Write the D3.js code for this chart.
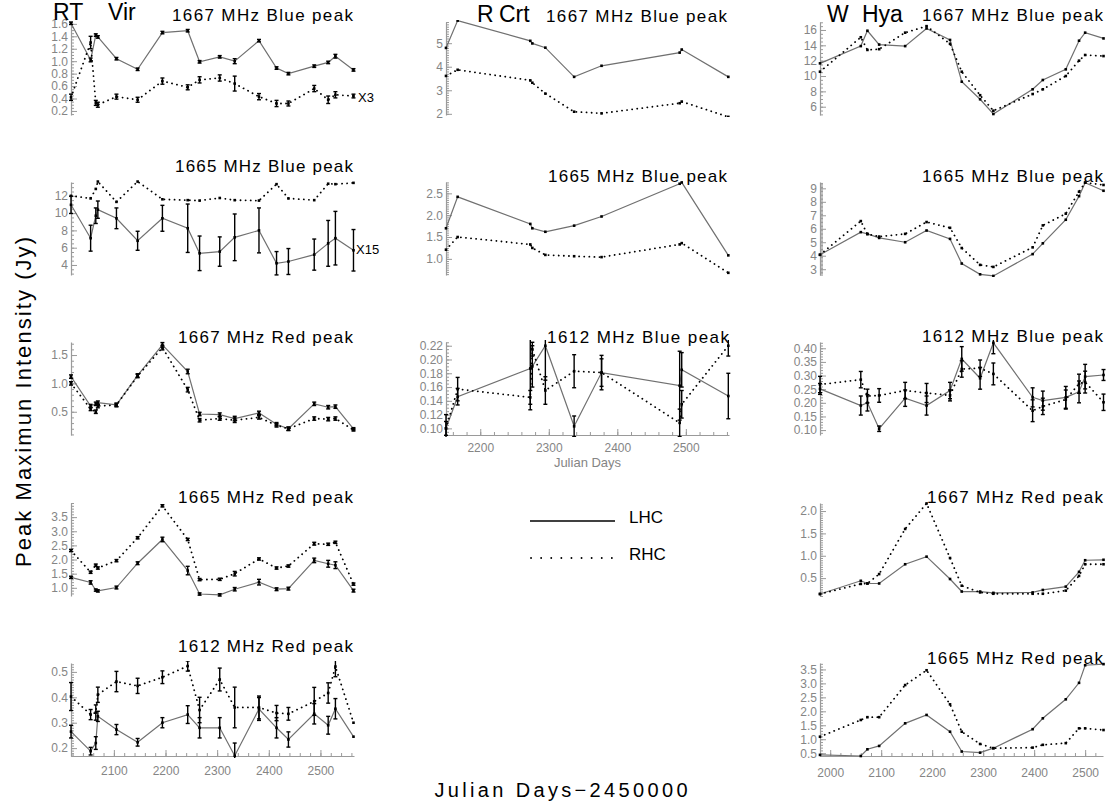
<!DOCTYPE html>
<html><head><meta charset="utf-8">
<script src="https://cdn.jsdelivr.net/npm/d3@7"></script>
<style>body{margin:0;background:#fff} svg{display:block}</style>
</head><body>
<svg id="c" width="1107" height="802"></svg>
<script>
// ---------------- DATA ----------------
const rtVirDays = [2017, 2055, 2065, 2069, 2105, 2146, 2194, 2243, 2266, 2305, 2334, 2381, 2415, 2438, 2488, 2515, 2529, 2564];
const rCrtDays  = [2150, 2167, 2273, 2276, 2295, 2337, 2377, 2491, 2494, 2562];
const wHyaDays  = [1980, 2060, 2073, 2096, 2147, 2189, 2235, 2258, 2294, 2320, 2397, 2417, 2462, 2488, 2500, 2536];

// RT Vir
const rtVir1667BlueLHC = [1.61, 1.02, 1.42, 1.39, 1.04, 0.87, 1.46, 1.49, 0.99, 1.07, 1.00, 1.33, 0.89, 0.80, 0.92, 0.98, 1.08, 0.86];
const rtVir1667BlueLHCErr = [0.02, 0.03, 0.02, 0.02, 0.02, 0.02, 0.02, 0.02, 0.02, 0.02, 0.04, 0.02, 0.02, 0.02, 0.02, 0.02, 0.03, 0.02];
const rtVir1667BlueRHC = [0.42, 1.30, 0.33, 0.30, 0.43, 0.38, 0.68, 0.58, 0.70, 0.73, 0.64, 0.43, 0.32, 0.32, 0.56, 0.38, 0.46, 0.44];
const rtVir1667BlueRHCErr = [0.05, 0.10, 0.04, 0.04, 0.04, 0.04, 0.05, 0.04, 0.05, 0.05, 0.12, 0.05, 0.05, 0.04, 0.05, 0.06, 0.05, 0.03];

const rtVir1665BlueLHC = [10.96, 7.1, 9.7, 10.4, 9.4, 6.8, 9.4, 8.25, 5.35, 5.55, 7.2, 8.0, 4.2, 4.4, 5.2, 6.5, 7.1, 5.7];
const rtVir1665BlueLHCErr = [1.0, 1.5, 0.9, 1.0, 1.2, 1.1, 1.5, 2.8, 2.0, 1.7, 2.7, 2.6, 1.35, 1.5, 1.8, 2.65, 3.1, 2.4];
const rtVir1665BlueRHC = [12.0, 11.7, 12.8, 13.65, 11.3, 13.65, 11.6, 11.5, 11.45, 11.75, 11.5, 11.45, 13.35, 11.7, 11.5, 13.4, 13.35, 13.5];

const rtVir1667RedLHC = [1.12, 0.60, 0.64, 0.66, 0.62, 1.14, 1.68, 1.21, 0.46, 0.45, 0.38, 0.48, 0.28, 0.20, 0.64, 0.58, 0.59, 0.20];
const rtVir1667RedLHCErr = [0.03, 0.03, 0.03, 0.03, 0.03, 0.03, 0.04, 0.04, 0.03, 0.03, 0.04, 0.03, 0.03, 0.03, 0.03, 0.03, 0.03, 0.02];
const rtVir1667RedRHC = [1.00, 0.55, 0.50, 0.60, 0.62, 1.13, 1.63, 0.89, 0.35, 0.38, 0.35, 0.40, 0.26, 0.20, 0.38, 0.37, 0.38, 0.18];
const rtVir1667RedRHCErr = [0.03, 0.03, 0.03, 0.03, 0.03, 0.03, 0.04, 0.04, 0.03, 0.03, 0.04, 0.03, 0.03, 0.03, 0.03, 0.03, 0.03, 0.02];

const rtVir1665RedLHC = [1.37, 1.19, 0.92, 0.89, 1.01, 1.87, 2.71, 1.61, 0.78, 0.75, 0.95, 1.20, 0.95, 0.97, 1.97, 1.85, 1.80, 0.90];
const rtVir1665RedLHCErr = [0.04, 0.06, 0.04, 0.04, 0.05, 0.05, 0.08, 0.15, 0.04, 0.04, 0.06, 0.10, 0.05, 0.05, 0.08, 0.12, 0.12, 0.05];
const rtVir1665RedRHC = [2.32, 1.55, 1.80, 1.70, 1.96, 2.77, 3.90, 2.71, 1.29, 1.30, 1.50, 2.02, 1.70, 1.77, 2.56, 2.54, 2.61, 1.13];
const rtVir1665RedRHCErr = [0.04, 0.04, 0.04, 0.04, 0.04, 0.04, 0.04, 0.04, 0.04, 0.04, 0.08, 0.04, 0.04, 0.04, 0.05, 0.04, 0.04, 0.04];

const rtVir1612RedLHC = [0.265, 0.188, 0.22, 0.325, 0.273, 0.223, 0.30, 0.332, 0.28, 0.28, 0.17, 0.354, 0.28, 0.234, 0.335, 0.29, 0.355, 0.245];
const rtVir1612RedLHCErr = [0.025, 0.015, 0.025, 0.02, 0.02, 0.015, 0.02, 0.035, 0.04, 0.04, 0.05, 0.045, 0.04, 0.03, 0.04, 0.035, 0.04, 0.0];
const rtVir1612RedRHC = [0.403, 0.332, 0.34, 0.41, 0.462, 0.445, 0.479, 0.523, 0.35, 0.47, 0.36, 0.36, 0.338, 0.335, 0.384, 0.417, 0.521, 0.30];
const rtVir1612RedRHCErr = [0.055, 0.02, 0.03, 0.03, 0.04, 0.03, 0.025, 0.02, 0.05, 0.045, 0.08, 0.045, 0.03, 0.025, 0.055, 0.04, 0.04, 0.0];

// R Crt
const rCrt1667BlueLHC = [4.80, 5.96, 5.10, 4.99, 4.81, 3.57, 4.04, 4.60, 4.73, 3.57];
const rCrt1667BlueRHC = [3.61, 3.87, 3.42, 3.32, 2.86, 2.09, 2.02, 2.45, 2.52, 1.87];
const rCrt1665BlueLHC = [1.70, 2.42, 1.80, 1.70, 1.62, 1.76, 1.97, 2.72, 2.75, 1.08];
const rCrt1665BlueRHC = [1.21, 1.50, 1.33, 1.25, 1.09, 1.06, 1.04, 1.33, 1.36, 0.68];
const rCrt1612BlueLHC = [0.100, 0.146, 0.187, 0.190, 0.220, 0.103, 0.181, 0.162, 0.185, 0.147];
const rCrt1612BlueLHCErr = [0.02, 0.012, 0.06, 0.03, 0.05, 0.015, 0.025, 0.05, 0.025, 0.033];
const rCrt1612BlueRHC = [0.100, 0.157, 0.145, 0.215, 0.155, 0.183, 0.181, 0.108, 0.135, 0.220];
const rCrt1612BlueRHCErr = [0.01, 0.017, 0.01, 0.01, 0.02, 0.024, 0.02, 0.02, 0.02, 0.015];

// W Hya
const wHya1667BlueLHC = [11.65, 13.9, 15.9, 14.1, 13.9, 16.2, 14.7, 9.26, 6.97, 5.05, 8.27, 9.48, 10.87, 14.6, 15.65, 14.9];
const wHya1667BlueRHC = [10.56, 15.05, 13.4, 13.5, 15.65, 16.5, 14.2, 10.56, 7.5, 5.48, 7.65, 8.27, 10.0, 12.0, 12.74, 12.6];
const wHya1665BlueLHC = [4.07, 5.75, 5.62, 5.32, 5.0, 5.87, 5.25, 3.42, 2.62, 2.5, 4.12, 4.92, 6.67, 8.42, 9.42, 8.82];
const wHya1665BlueRHC = [4.07, 6.57, 5.6, 5.42, 5.62, 6.5, 6.07, 4.57, 3.32, 3.17, 4.62, 6.25, 7.12, 8.75, 9.42, 9.25];
const wHya1612BlueLHC = [0.251, 0.19, 0.20, 0.105, 0.217, 0.19, 0.245, 0.361, 0.29, 0.42, 0.22, 0.208, 0.22, 0.24, 0.296, 0.302];
const wHya1612BlueLHCErr = [0.02, 0.035, 0.03, 0.01, 0.03, 0.035, 0.03, 0.045, 0.04, 0.04, 0.035, 0.035, 0.04, 0.04, 0.045, 0.02];
const wHya1612BlueRHC = [0.267, 0.285, 0.225, 0.227, 0.245, 0.236, 0.227, 0.324, 0.327, 0.306, 0.171, 0.187, 0.212, 0.27, 0.276, 0.202];
const wHya1612BlueRHCErr = [0.03, 0.03, 0.025, 0.025, 0.03, 0.035, 0.02, 0.03, 0.03, 0.04, 0.04, 0.03, 0.035, 0.035, 0.04, 0.03];
const wHya1667RedLHC = [0.145, 0.44, 0.38, 0.38, 0.81, 0.98, 0.48, 0.20, 0.20, 0.17, 0.18, 0.235, 0.31, 0.64, 0.90, 0.91];
const wHya1667RedRHC = [0.145, 0.37, 0.38, 0.59, 1.60, 2.17, 0.95, 0.33, 0.18, 0.15, 0.15, 0.15, 0.22, 0.55, 0.81, 0.81];
const wHya1665RedLHC = [0.44, 0.40, 0.64, 0.76, 1.57, 1.87, 1.27, 0.56, 0.52, 0.68, 1.36, 1.75, 2.43, 3.02, 3.65, 3.69];
const wHya1665RedRHC = [1.09, 1.69, 1.79, 1.79, 2.94, 3.47, 2.25, 1.27, 0.83, 0.68, 0.70, 0.80, 0.86, 1.39, 1.39, 1.33];

// tick labels
const ticksRtVir1667Blue = [0.2, 0.4, 0.6, 0.8, 1.0, 1.2, 1.4, 1.6];
const ticksRtVir1665Blue = [4, 6, 8, 10, 12];
const ticksRtVir1667Red = [0.5, 1.0, 1.5];
const ticksRtVir1665Red = [1.0, 1.5, 2.0, 2.5, 3.0, 3.5];
const ticksRtVir1612Red = [0.2, 0.3, 0.4, 0.5];
const ticksRCrt1667Blue = [2, 3, 4, 5];
const ticksRCrt1665Blue = [1.0, 1.5, 2.0, 2.5];
const ticksRCrt1612Blue = [0.10, 0.12, 0.14, 0.16, 0.18, 0.20, 0.22];
const ticksWHya1667Blue = [6, 8, 10, 12, 14, 16];
const ticksWHya1665Blue = [3, 4, 5, 6, 7, 8, 9];
const ticksWHya1612Blue = [0.10, 0.15, 0.20, 0.25, 0.30, 0.35, 0.40];
const ticksWHya1667Red = [0.5, 1.0, 1.5, 2.0];
const ticksWHya1665Red = [0.5, 1.0, 1.5, 2.0, 2.5, 3.0, 3.5];
const xTicksRtVir = [2100, 2200, 2300, 2400, 2500];
const xTicksRCrt = [2200, 2300, 2400, 2500];
const xTicksWHya = [2000, 2100, 2200, 2300, 2400, 2500];

// ---------------- LAYOUT ----------------
const svg = d3.select('#c');
const LHC_COL = '#707070', AXIS_COL = '#9a9a9a', LBL_COL = '#858585';
const FONT = 'Liberation Sans, Arial, sans-serif';
const cols = [
  {x0: 71,  x1: 354,  dom: [2017, 2565], days: rtVirDays, xt: xTicksRtVir, xpad: 10},
  {x0: 446, x1: 729,  dom: [2150, 2563], days: rCrtDays,  xt: xTicksRCrt,  xpad: 8},
  {x0: 820, x1: 1103, dom: [1980, 2535], days: wHyaDays,  xt: xTicksWHya,  xpad: 12}
];
const rowTop = [22, 182, 342, 503, 663];
const rowH = 93;

const panels = [
  {c:0,r:0,title:'1667 MHz Blue peak',tx:172,tw:181,tb:21,ydom:[0.135,1.63],yt:ticksRtVir1667Blue,fmt:'.1f',minor:0.05,lhc:rtVir1667BlueLHC,le:rtVir1667BlueLHCErr,rhc:rtVir1667BlueRHC,re:rtVir1667BlueRHCErr},
  {c:0,r:1,title:'1665 MHz Blue peak',tx:175,tw:178,tb:172,ydom:[2.84,13.6],yt:ticksRtVir1665Blue,fmt:'d',minor:0.5,lhc:rtVir1665BlueLHC,le:rtVir1665BlueLHCErr,rhc:rtVir1665BlueRHC,re:null},
  {c:0,r:2,title:'1667 MHz Red peak',tx:178,tw:175,tb:343,ydom:[0.09,1.73],yt:ticksRtVir1667Red,fmt:'.1f',minor:0.1,lhc:rtVir1667RedLHC,le:rtVir1667RedLHCErr,rhc:rtVir1667RedRHC,re:rtVir1667RedRHCErr},
  {c:0,r:3,title:'1665 MHz Red peak',tx:178,tw:175,tb:503,ydom:[0.71,4.0],yt:ticksRtVir1665Red,fmt:'.1f',minor:0.1,lhc:rtVir1665RedLHC,le:rtVir1665RedLHCErr,rhc:rtVir1665RedRHC,re:rtVir1665RedRHCErr},
  {c:0,r:4,title:'1612 MHz Red peak',tx:178,tw:175,tb:652,ydom:[0.169,0.535],yt:ticksRtVir1612Red,fmt:'.1f',minor:0.01,lhc:rtVir1612RedLHC,le:rtVir1612RedLHCErr,rhc:rtVir1612RedRHC,re:rtVir1612RedRHCErr,xaxis:true},
  {c:1,r:0,title:'1667 MHz Blue peak',tx:546,tw:181,tb:22,ydom:[1.95,5.9],yt:ticksRCrt1667Blue,fmt:'d',minor:0.1,lhc:rCrt1667BlueLHC,rhc:rCrt1667BlueRHC},
  {c:1,r:1,title:'1665 MHz Blue peak',tx:548,tw:179,tb:182,ydom:[0.63,2.76],yt:ticksRCrt1665Blue,fmt:'.1f',minor:0.05,lhc:rCrt1665BlueLHC,rhc:rCrt1665BlueRHC},
  {c:1,r:2,title:'1612 MHz Blue peak',tx:547,tw:182,tb:343,ydom:[0.0904,0.2254],yt:ticksRCrt1612Blue,fmt:'.2f',minor:0.005,lhc:rCrt1612BlueLHC,le:rCrt1612BlueLHCErr,rhc:rCrt1612BlueRHC,re:rCrt1612BlueRHCErr,xaxis:true,xlabel:'Julian Days'},
  {c:2,r:0,title:'1667 MHz Blue peak',tx:922,tw:181,tb:21,ydom:[4.92,17.04],yt:ticksWHya1667Blue,fmt:'d',minor:0.5,lhc:wHya1667BlueLHC,rhc:wHya1667BlueRHC},
  {c:2,r:1,title:'1665 MHz Blue peak',tx:922,tw:181,tb:182,ydom:[2.57,9.47],yt:ticksWHya1665Blue,fmt:'d',minor:0.1,lhc:wHya1665BlueLHC,rhc:wHya1665BlueRHC},
  {c:2,r:2,title:'1612 MHz Blue peak',tx:922,tw:181,tb:342,ydom:[0.082,0.423],yt:ticksWHya1612Blue,fmt:'.2f',minor:0.01,lhc:wHya1612BlueLHC,le:wHya1612BlueLHCErr,rhc:wHya1612BlueRHC,re:wHya1612BlueRHCErr},
  {c:2,r:3,title:'1667 MHz Red peak',tx:927,tw:176,tb:503,ydom:[0.10,2.18],yt:ticksWHya1667Red,fmt:'.1f',minor:0.05,lhc:wHya1667RedLHC,rhc:wHya1667RedRHC},
  {c:2,r:4,title:'1665 MHz Red peak',tx:927,tw:176,tb:664,ydom:[0.40,3.73],yt:ticksWHya1665Red,fmt:'.1f',minor:0.1,lhc:wHya1665RedLHC,rhc:wHya1665RedRHC,xaxis:true}
];

const defs = svg.append('defs');

function styleAxis(g) {
  g.selectAll('path.domain').attr('stroke', AXIS_COL).attr('stroke-width', 1.2);
  g.selectAll('.tick line').attr('stroke', AXIS_COL).attr('stroke-width', 1);
  g.selectAll('.tick text').attr('fill', LBL_COL).attr('font-family', FONT).attr('font-size', 12);
}

panels.forEach((p, i) => {
  const col = cols[p.c];
  const y0 = rowTop[p.r], y1 = y0 + rowH;
  const x = d3.scaleLinear().domain(col.dom).range([col.x0, col.x1]);
  const y = d3.scaleLinear().domain(p.ydom).range([y1, y0]);
  const g = svg.append('g');

  // minor y ticks
  const lo = Math.ceil(p.ydom[0] / p.minor - 1e-6), hi = Math.floor(p.ydom[1] / p.minor + 1e-6);
  const minorVals = d3.range(lo, hi + 1).map(k => k * p.minor);
  const gm = g.append('g').attr('transform', `translate(${col.x0},0)`)
    .call(d3.axisLeft(y).tickValues(minorVals).tickSizeInner(-3).tickSizeOuter(0).tickFormat(''));
  gm.select('path.domain').remove();
  styleAxis(gm);

  const ga = g.append('g').attr('transform', `translate(${col.x0},0)`)
    .call(d3.axisLeft(y).tickValues(p.yt).tickFormat(d3.format(p.fmt)).tickSizeInner(-6).tickSizeOuter(0).tickPadding(3));
  styleAxis(ga);

  if (p.xaxis) {
    const xm = d3.range(Math.ceil(col.dom[0] / 20) * 20, col.dom[1], 20);
    const gxm = g.append('g').attr('transform', `translate(0,${y1})`)
      .call(d3.axisBottom(x).tickValues(xm).tickSizeInner(-3).tickSizeOuter(0).tickFormat(''));
    gxm.select('path.domain').remove();
    styleAxis(gxm);
    const gx = g.append('g').attr('transform', `translate(0,${y1})`)
      .call(d3.axisBottom(x).tickValues(col.xt).tickFormat(d3.format('d')).tickSizeInner(-6).tickSizeOuter(0).tickPadding(col.xpad));
    styleAxis(gx);
    if (p.xlabel) {
      g.append('text').attr('x', (col.x0 + col.x1) / 2).attr('y', y1 + 32)
        .attr('text-anchor', 'middle').attr('font-family', FONT).attr('font-size', 13)
        .attr('fill', LBL_COL).text(p.xlabel);
    }
  }

  // clip
  const cid = 'clip' + i;
  defs.append('clipPath').attr('id', cid).append('rect')
    .attr('x', col.x0 - 3).attr('y', y0 - 2).attr('width', col.x1 - col.x0 + 6).attr('height', rowH + 4);
  const pg = g.append('g').attr('clip-path', `url(#${cid})`);

  const series = [
    {vals: p.lhc, err: p.le, dotted: false},
    {vals: p.rhc, err: p.re, dotted: true}
  ];
  series.forEach(s => {
    const pts = col.days.map((d, k) => ({d, v: s.vals[k], e: s.err ? s.err[k] : 0}));
    const line = d3.line().x(q => x(q.d)).y(q => y(q.v));
    const path = pg.append('path').attr('d', line(pts)).attr('fill', 'none');
    if (s.dotted) {
      path.attr('stroke', '#000').attr('stroke-width', 1.8)
        .attr('stroke-linecap', 'round').attr('stroke-dasharray', '0.1,5');
    } else {
      path.attr('stroke', LHC_COL).attr('stroke-width', 1.2);
    }
    // error bars
    pts.filter(q => q.e > 0).forEach(q => {
      const xx = x(q.d), ya = y(q.v - q.e), yb = y(q.v + q.e);
      pg.append('line').attr('x1', xx).attr('x2', xx).attr('y1', ya).attr('y2', yb)
        .attr('stroke', '#000').attr('stroke-width', 1.4);
      [ya, yb].forEach(yy => pg.append('line').attr('x1', xx - 2).attr('x2', xx + 2)
        .attr('y1', yy).attr('y2', yy).attr('stroke', '#000').attr('stroke-width', 1.4));
    });
    // point markers
    pg.selectAll(null).data(pts).enter().append('rect')
      .attr('x', q => x(q.d) - 1.3).attr('y', q => y(q.v) - 1.3)
      .attr('width', 2.6).attr('height', 2.6).attr('fill', '#000');
  });

  // title
  svg.append('text').attr('x', p.tx).attr('y', p.tb)
    .attr('font-family', FONT).attr('font-size', 17).attr('fill', '#000')
    .attr('textLength', p.tw).attr('lengthAdjust', 'spacing').text(p.title);
});

// star names (two words placed separately, as in the reference)
[['RT', 53, 'Vir', 108, 20], ['R', 477, 'Crt', 499, 22], ['W', 827, 'Hya', 862, 22]].forEach(([a, ax, b, bx, base]) => {
  [[a, ax], [b, bx]].forEach(([t, xx]) => {
    svg.append('text').attr('x', xx).attr('y', base).attr('font-family', FONT).attr('font-size', 23)
      .attr('fill', '#000').text(t);
  });
});

// scale notes
svg.append('text').attr('x', 358).attr('y', 102).attr('font-family', FONT).attr('font-size', 13).text('X3');
svg.append('text').attr('x', 356).attr('y', 254).attr('font-family', FONT).attr('font-size', 13).text('X15');

// axis titles
svg.append('text').attr('transform', 'translate(31,402) rotate(-90)').attr('text-anchor', 'middle')
  .attr('font-family', FONT).attr('font-size', 22).attr('textLength', 330).attr('lengthAdjust', 'spacing')
  .text('Peak Maximun Intensity (Jy)');
svg.append('text').attr('x', 561).attr('y', 797).attr('text-anchor', 'middle')
  .attr('font-family', FONT).attr('font-size', 20).attr('textLength', 253).attr('lengthAdjust', 'spacing')
  .text('Julian Days\u22122450000');

// legend
svg.append('line').attr('x1', 530).attr('x2', 615).attr('y1', 521).attr('y2', 521).attr('stroke', '#000').attr('stroke-width', 1.3);
svg.append('line').attr('x1', 531).attr('x2', 615).attr('y1', 558).attr('y2', 558).attr('stroke', '#000')
  .attr('stroke-width', 1.8).attr('stroke-linecap', 'round').attr('stroke-dasharray', '0.1,10');
svg.append('text').attr('x', 629).attr('y', 523).attr('font-family', FONT).attr('font-size', 17).text('LHC');
svg.append('text').attr('x', 629).attr('y', 560).attr('font-family', FONT).attr('font-size', 17).text('RHC');
</script>
</body></html>
